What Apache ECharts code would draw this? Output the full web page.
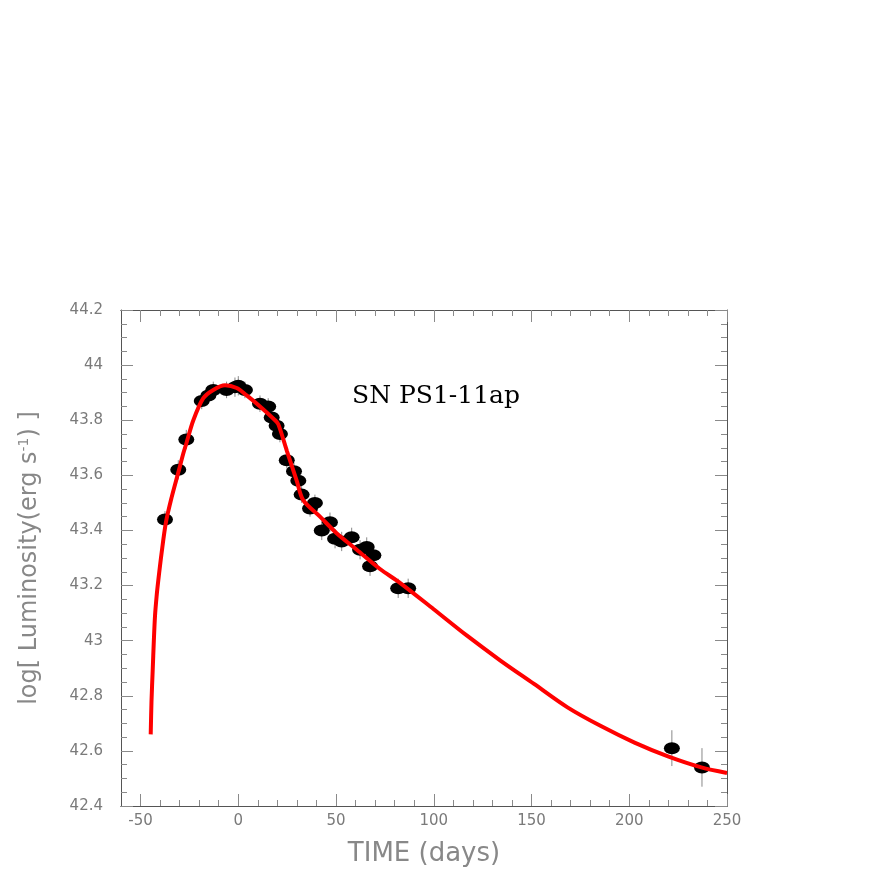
<!DOCTYPE html>
<html>
<head>
<meta charset="utf-8">
<script src="https://cdn.jsdelivr.net/npm/echarts@6/dist/echarts.min.js"></script>
<style>
  html, body { margin: 0; padding: 0; background: #fff; }
  #chart { width: 872px; height: 872px; }
</style>
</head>
<body>
<div id="chart"></div>
<script>
// observed points (days from peak, log L) with error half-widths
const obsDays = [-37.5, -30.7, -26.6, -18.7, -15.3, -12.8, -6.0, -1.7, 0.0, 3.4,
  11.1, 15.3, 17.1, 19.6, 21.3, 24.8, 28.5, 30.7, 32.4, 36.7,
  39.2, 42.7, 46.9, 49.5, 52.9, 58.0, 62.3, 65.7, 67.4, 69.1,
  81.8, 86.9, 221.8, 237.2]
const obsLogL = [43.44, 43.62, 43.73, 43.87, 43.89, 43.91, 43.91, 43.92, 43.925, 43.91,
  43.86, 43.85, 43.81, 43.78, 43.75, 43.655, 43.615, 43.58, 43.53, 43.48,
  43.50, 43.40, 43.43, 43.37, 43.36, 43.375, 43.33, 43.34, 43.27, 43.31,
  43.19, 43.19, 42.61, 42.54]
const obsErr = [0.03, 0.035, 0.035, 0.03, 0.03, 0.03, 0.03, 0.035, 0.035, 0.03,
  0.03, 0.03, 0.03, 0.03, 0.03, 0.03, 0.03, 0.03, 0.03, 0.03,
  0.03, 0.035, 0.035, 0.035, 0.035, 0.035, 0.035, 0.035, 0.035, 0.035,
  0.035, 0.035, 0.065, 0.07]

// model fit (red curve)
const modelDays = [-44.8, -44.4, -43.8, -43.2, -42.6, -41.8, -40.9, -39.2, -37.0, -34.1,
  -30.7, -28.1, -26.4, -23.0, -17.9, -12.8, -6.8, -0.8, 4.3, 11.1,
  18.8, 20.5, 24.8, 29.9, 33.2, 41.8, 50.3, 60.6, 72.5, 82.7,
  99.8, 117, 134.1, 151.3, 168.4, 185.5, 202.7, 219.8, 236.9, 250]
const modelLogL = [42.66, 42.78, 42.89, 43.00, 43.09, 43.16, 43.22, 43.32, 43.43, 43.52,
  43.61, 43.68, 43.72, 43.80, 43.88, 43.91, 43.927, 43.917, 43.89, 43.85,
  43.80, 43.785, 43.69, 43.58, 43.51, 43.45, 43.39, 43.33, 43.26, 43.21,
  43.115, 43.018, 42.928, 42.843, 42.758, 42.69, 42.63, 42.58, 42.54, 42.52]

// axis ticks
const xMajorTicks = [-50, 0, 50, 100, 150, 200, 250]
const xMinorTicks = [-50, -40, -30, -20, -10, 0, 10, 20, 30, 40, 50, 60, 70, 80, 90, 100,
  110, 120, 130, 140, 150, 160, 170, 180, 190, 200, 210, 220, 230, 240]

const chart = echarts.init(document.getElementById('chart'))

const tickColor = '#8a8a8a'
const lineColor = '#555'
const labelStyle = { color: '#7a7a7a', fontSize: 15, fontFamily: 'DejaVu Sans' }

function xAxisDef(position, ticks, len, withLabels) {
  return {
    type: 'value',
    position: position,
    min: -60,
    max: 250,
    axisLine: { show: true, onZero: false, lineStyle: { color: lineColor, width: 1 } },
    axisTick: { show: true, inside: true, length: len, customValues: ticks, lineStyle: { color: tickColor } },
    axisLabel: withLabels
      ? Object.assign({ show: true, margin: 8, customValues: xMajorTicks }, labelStyle)
      : { show: false },
    splitLine: { show: false }
  }
}

function yAxisDef(position, withLabels) {
  return {
    type: 'value',
    position: position,
    min: 42.4,
    max: 44.2,
    interval: 0.2,
    axisLine: { show: true, onZero: false, lineStyle: { color: lineColor, width: 1 } },
    axisTick: { show: true, inside: true, length: 12, lineStyle: { color: tickColor } },
    minorTick: { show: true, splitNumber: 4, length: 6, lineStyle: { color: tickColor } },
    axisLabel: withLabels ? Object.assign({ show: true, margin: 18 }, labelStyle) : { show: false },
    splitLine: { show: false },
    minorSplitLine: { show: false }
  }
}

const xBottom = xAxisDef('bottom', xMajorTicks, 12, true)
xBottom.name = 'TIME (days)'
xBottom.nameLocation = 'middle'
xBottom.nameGap = 35
xBottom.nameTextStyle = { color: '#888', fontSize: 26, fontFamily: 'DejaVu Sans' }

const yLeft = yAxisDef('left', true)
yLeft.name = 'log[ Luminosity(erg s{sup|-1}) ]'
yLeft.nameLocation = 'middle'
yLeft.nameGap = 78
yLeft.nameTextStyle = {
  color: '#888', fontSize: 24, fontFamily: 'DejaVu Sans',
  rich: { sup: { color: '#888', fontSize: 14, fontFamily: 'DejaVu Sans', padding: [0, 0, 12, 0] } }
}

const option = {
  animation: false,
  backgroundColor: '#fff',
  title: {
    text: 'SN PS1-11ap',
    left: 347,
    top: 379,
    textStyle: { fontFamily: 'DejaVu Serif', fontSize: 25, fontWeight: 'normal', color: '#000' }
  },
  grid: { left: 121, right: 145, top: 310, bottom: 64 },
  xAxis: [
    xBottom,
    xAxisDef('bottom', xMinorTicks, 6, false),
    xAxisDef('top', xMajorTicks, 12, false),
    xAxisDef('top', xMinorTicks, 6, false)
  ],
  yAxis: [yLeft, yAxisDef('right', false)],
  series: [
    {
      type: 'custom',
      name: 'errors',
      xAxisIndex: 0,
      yAxisIndex: 0,
      encode: { x: 0, y: [1, 2] },
      data: obsDays.map((d, i) => [d, obsLogL[i] - obsErr[i], obsLogL[i] + obsErr[i]]),
      renderItem: function (params, api) {
        const p1 = api.coord([api.value(0), api.value(1)])
        const p2 = api.coord([api.value(0), api.value(2)])
        return {
          type: 'line',
          shape: { x1: p1[0], y1: p1[1], x2: p2[0], y2: p2[1] },
          style: { stroke: '#888', lineWidth: 1 }
        }
      },
      z: 2
    },
    {
      type: 'scatter',
      name: 'data',
      xAxisIndex: 0,
      yAxisIndex: 0,
      symbol: 'circle',
      symbolSize: [16, 12],
      itemStyle: { color: '#000', opacity: 1 },
      data: obsDays.map((d, i) => [d, obsLogL[i]]),
      z: 3
    },
    {
      type: 'line',
      name: 'model',
      xAxisIndex: 0,
      yAxisIndex: 0,
      showSymbol: false,
      smooth: 0.3,
      clip: true,
      lineStyle: { color: '#ff0000', width: 4 },
      data: modelDays.map((d, i) => [d, modelLogL[i]]),
      z: 4
    }
  ]
}

chart.setOption(option)
</script>
</body>
</html>
